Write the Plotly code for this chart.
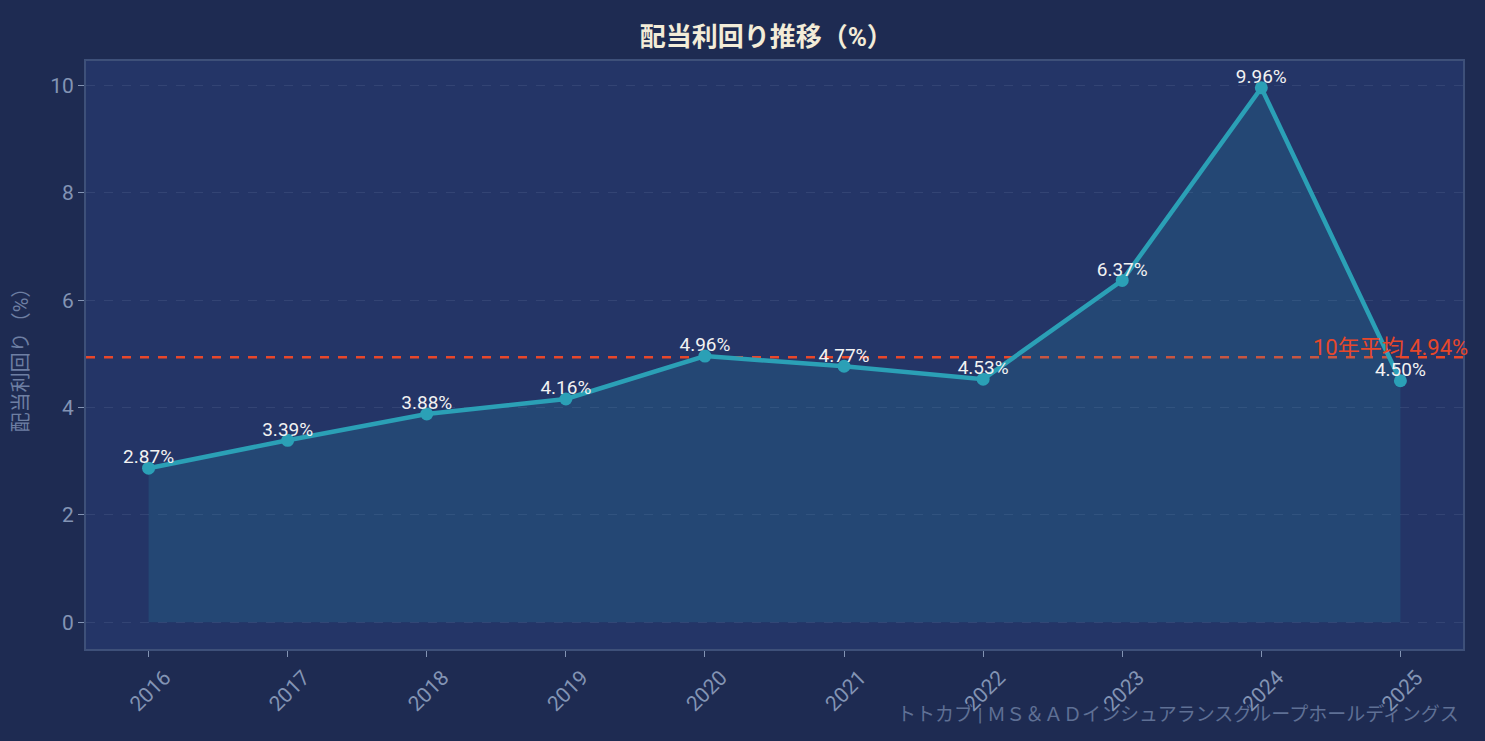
import plotly.graph_objects as go

years = [2016, 2017, 2018, 2019, 2020, 2021, 2022, 2023, 2024, 2025]
yields = [2.87, 3.39, 3.88, 4.16, 4.96, 4.77, 4.53, 6.37, 9.96, 4.50]
avg_10y = 4.94

title = "配当利回り推移（%）"
y_title = "配当利回り（%）"
avg_label = f"10年平均 {avg_10y:.2f}%"
watermark = "トトカブ | ＭＳ＆ＡＤインシュアランスグループホールディングス"

FONT = "Roboto, Noto Sans CJK JP"
TEAL = "#2ba0b6"
RED = "#e8472a"
GREY = "#8394b4"

fig = go.Figure()

fig.add_trace(go.Scatter(
    x=years, y=yields,
    mode="lines+markers",
    line=dict(color=TEAL, width=4.5),
    marker=dict(color=TEAL, size=13),
    fill="tozeroy",
    fillcolor="rgba(43,160,182,0.17)",
    hoverinfo="x+y",
    showlegend=False,
))

# value labels sit right on top of the markers
fig.add_trace(go.Scatter(
    x=years, y=yields,
    mode="text",
    text=[f"{v:.2f}%" for v in yields],
    textposition="top center",
    textfont=dict(color="#f2f2f2", size=19, family=FONT),
    hoverinfo="skip",
    showlegend=False,
))

fig.add_hline(y=avg_10y, layer="below", line=dict(color=RED, width=2.5, dash="dash"))
fig.add_annotation(
    x=1.005, xref="paper", y=avg_10y, yref="y",
    text=avg_label, showarrow=False,
    xanchor="right", yanchor="bottom", yshift=-5,
    font=dict(color=RED, size=22, family=FONT),
)

fig.add_annotation(
    x=0.9985, xref="paper", y=-0.112, yref="paper",
    text=watermark, showarrow=False,
    xanchor="right", yanchor="middle",
    font=dict(color="#5f7095", size=19, family=FONT),
)

fig.update_layout(
    width=1485, height=741,
    paper_bgcolor="#1e2b52",
    plot_bgcolor="#243567",
    margin=dict(l=86, r=22, t=61, b=92),
    title=dict(text=f"<b>{title}</b>", xref="container", x=0.516, xanchor="center", y=0.963,
               font=dict(color="#f3ecd8", size=26, family=FONT)),
    font=dict(family=FONT, color=GREY),
)

fig.update_xaxes(
    range=[2015.55, 2025.45], tickvals=years, ticktext=[str(y) for y in years],
    tickangle=-45, tickfont=dict(size=21, color=GREY),
    ticklabelshift=16,
    ticks="outside", ticklen=6, tickcolor=GREY,
    showgrid=False, zeroline=False,
    showline=True, linecolor="#3e5079", linewidth=2, mirror=True,
)
fig.update_yaxes(
    range=[-0.5, 10.46], dtick=2,
    tickfont=dict(size=21, color=GREY),
    ticks="outside", ticklen=6, tickcolor=GREY,
    showgrid=True, gridcolor="rgba(120,140,180,0.18)", griddash="dash",
    zeroline=False,
    showline=True, linecolor="#3e5079", linewidth=2, mirror=True,
    title=dict(text=y_title, font=dict(size=20, color="#6e7fa3"), standoff=16),
)

fig.write_html("out.html", config={"displayModeBar": False},
               post_script="document.body.style.margin='0';")
